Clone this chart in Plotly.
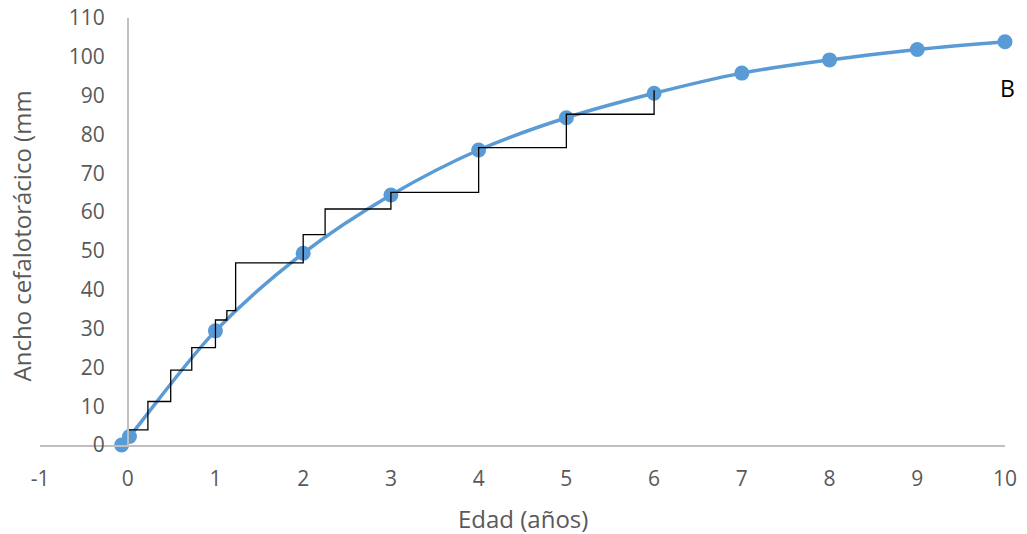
import plotly.graph_objects as go

# Growth curve: mean cephalothoracic width by age
age = [-0.07, 0.02, 1, 2, 3, 4, 5, 6, 7, 8, 9, 10]
width_mm = [0.0, 2.2, 29.4, 49.4, 64.4, 76.0, 84.3, 90.6, 95.8, 99.2, 101.9, 103.9]

# Observed moult increments (stepwise growth)
step_age = [0, 0.23, 0.49, 0.73, 1.0, 1.13, 1.23, 2.0, 2.25, 3.0, 4.0, 5.0, 6.0, 6.0]
step_width = [0, 3.9, 11.2, 19.3, 25.1, 32.2, 34.6, 46.9, 54.2, 60.8, 65.1, 76.6, 85.2, 91.4]

x_ticks = list(range(-1, 11))
y_ticks = list(range(0, 111, 10))

FONT = "Open Sans"
TICK_COLOR = "#595959"
AXIS_COLOR = "#BFBFBF"

fig = go.Figure()

fig.add_trace(go.Scatter(
    x=age, y=width_mm,
    mode="lines+markers",
    line=dict(color="#5B9BD5", width=3.5, shape="spline", smoothing=1.0),
    marker=dict(color="#5B9BD5", size=15),
    cliponaxis=False,
    showlegend=False,
))

fig.add_trace(go.Scatter(
    x=step_age, y=step_width,
    mode="lines",
    line=dict(color="#000000", width=1.3, shape="vh"),
    cliponaxis=False,
    showlegend=False,
))

fig.update_layout(
    width=1027, height=534,
    margin=dict(l=40, r=22, t=18, b=89),
    paper_bgcolor="white",
    plot_bgcolor="white",
    font=dict(family=FONT, color=TICK_COLOR, size=21),
    xaxis=dict(
        range=[-1, 10],
        domain=[0, 1],
        automargin=False,
        tickvals=x_ticks,
        ticktext=[str(v) for v in x_ticks],
        showgrid=False,
        zeroline=False,
        showline=True,
        linecolor=AXIS_COLOR,
        linewidth=1.5,
        ticks="",
        ticklabelstandoff=14,
        tickfont=dict(family=FONT, size=21, color=TICK_COLOR),
    ),
    yaxis=dict(
        range=[0, 110],
        anchor="free",
        position=1 / 11,
        automargin=False,
        tickvals=y_ticks,
        ticktext=[str(v) for v in y_ticks],
        showgrid=False,
        zeroline=False,
        showline=True,
        linecolor=AXIS_COLOR,
        linewidth=1.5,
        ticks="",
        ticklabelstandoff=18,
        tickfont=dict(family=FONT, size=21, color=TICK_COLOR),
    ),
    annotations=[
        dict(text="Edad (años)", x=0.5, y=-0.171, xref="paper", yref="paper",
             xanchor="center", yanchor="middle", showarrow=False,
             font=dict(family=FONT, size=24, color=TICK_COLOR)),
        dict(text="Ancho cefalotorácico (mm", x=-0.019, y=0.49, xref="paper", yref="paper",
             xanchor="center", yanchor="middle", textangle=-90, showarrow=False,
             font=dict(family=FONT, size=24, color=TICK_COLOR)),
        dict(text="B", x=1.003, y=92.0, xref="paper", yref="y",
             xanchor="center", yanchor="middle", showarrow=False,
             font=dict(family=FONT, size=23, color="#000000")),
    ],
)

fig.write_html("out.html")
